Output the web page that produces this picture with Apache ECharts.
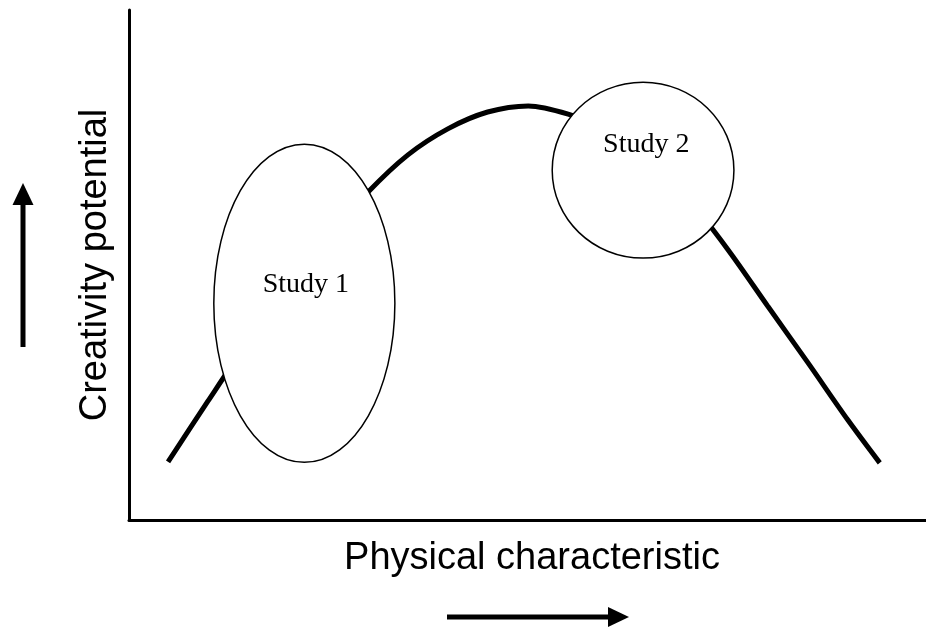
<!DOCTYPE html>
<html>
<head>
<meta charset="utf-8">
<script src="https://cdn.jsdelivr.net/npm/echarts@6/dist/echarts.min.js"></script>
<style>
html,body{margin:0;padding:0;background:#fff;}
#chart{width:926px;height:631px;}
</style>
</head>
<body>
<div id="chart"></div>
<script>
// ---- data (arbitrary units, 0..100 on both axes) ----
const curveX = [4.9, 9.9, 14.9, 20.0, 25.0, 30.0, 35.0, 40.0, 45.0, 50.1, 55.1, 60.1, 65.1, 70.1, 75.2, 80.2, 85.2, 90.2, 94.2];
const curveY = [11.4, 23.3, 34.9, 45.7, 55.3, 64.3, 71.6, 76.7, 80.0, 81.2, 79.6, 76.5, 71.0, 63.1, 52.9, 41.8, 30.8, 19.6, 11.2];

const studyNames = ['Study 1', 'Study 2'];
const studyCenterX = [22.0, 64.5];
const studyCenterY = [42.5, 68.6];
const studyRadiusX = [11.36, 11.4];
const studyRadiusY = [31.2, 17.25];
const studyLabelX = [22.2, 64.9];
const studyLabelY = [46.1, 73.6];

const xAxisTitle = 'Physical characteristic';
const yAxisTitle = 'Creativity potential';

// ---- build ----
const curveData = curveX.map((x, i) => [x, curveY[i]]);
const studyData = studyNames.map((n, i) => [studyCenterX[i], studyCenterY[i], studyRadiusX[i], studyRadiusY[i], studyLabelX[i], studyLabelY[i], n]);

const chart = echarts.init(document.getElementById('chart'), null, {renderer: 'canvas'});
const option = {
  backgroundColor: '#ffffff',
  animation: false,
  grid: {left: 129, right: 0, top: 10, bottom: 111, containLabel: false},
  xAxis: {
    type: 'value', min: 0, max: 100,
    name: xAxisTitle, nameLocation: 'middle', nameGap: 20,
    nameTextStyle: {fontFamily: 'Liberation Sans', fontSize: 38, color: '#000', padding: [0, 0, 0, 9]},
    axisLine: {show: true, lineStyle: {color: '#000', width: 3}},
    axisTick: {show: false}, axisLabel: {show: false}, splitLine: {show: false}
  },
  yAxis: {
    type: 'value', min: 0, max: 100,
    name: yAxisTitle, nameLocation: 'middle', nameGap: 14, nameRotate: 90,
    nameTextStyle: {fontFamily: 'Liberation Sans', fontSize: 38, color: '#000'},
    axisLine: {show: true, lineStyle: {color: '#000', width: 3}},
    axisTick: {show: false}, axisLabel: {show: false}, splitLine: {show: false}
  },
  series: [
    {
      type: 'line', data: curveData, smooth: 0.3, symbol: 'none', z: 2,
      lineStyle: {color: '#000', width: 5}
    },
    {
      type: 'custom', z: 3, data: studyData,
      renderItem: function (params, api) {
        const c = api.coord([api.value(0), api.value(1)]);
        const s = api.size([api.value(2), api.value(3)]);
        const t = api.coord([api.value(4), api.value(5)]);
        return {
          type: 'group',
          children: [
            {
              type: 'ellipse',
              shape: {cx: c[0], cy: c[1], rx: s[0], ry: s[1]},
              style: {fill: '#fff', stroke: '#000', lineWidth: 1.5}
            },
            {
              type: 'text',
              x: t[0], y: t[1],
              style: {
                text: studyNames[params.dataIndex],
                fill: '#000', font: '28px "Liberation Serif"',
                align: 'center', verticalAlign: 'middle'
              }
            }
          ]
        };
      }
    }
  ],
  graphic: [
    {type: 'line', shape: {x1: 23, y1: 347, x2: 23, y2: 203}, style: {stroke: '#000', lineWidth: 5}},
    {type: 'polygon', shape: {points: [[12.5, 205], [33.5, 205], [23, 183]]}, style: {fill: '#000'}},
    {type: 'line', shape: {x1: 447, y1: 617, x2: 610, y2: 617}, style: {stroke: '#000', lineWidth: 5}},
    {type: 'polygon', shape: {points: [[608, 607], [608, 627], [629, 617]]}, style: {fill: '#000'}}
  ]
};
chart.setOption(option);
</script>
</body>
</html>
